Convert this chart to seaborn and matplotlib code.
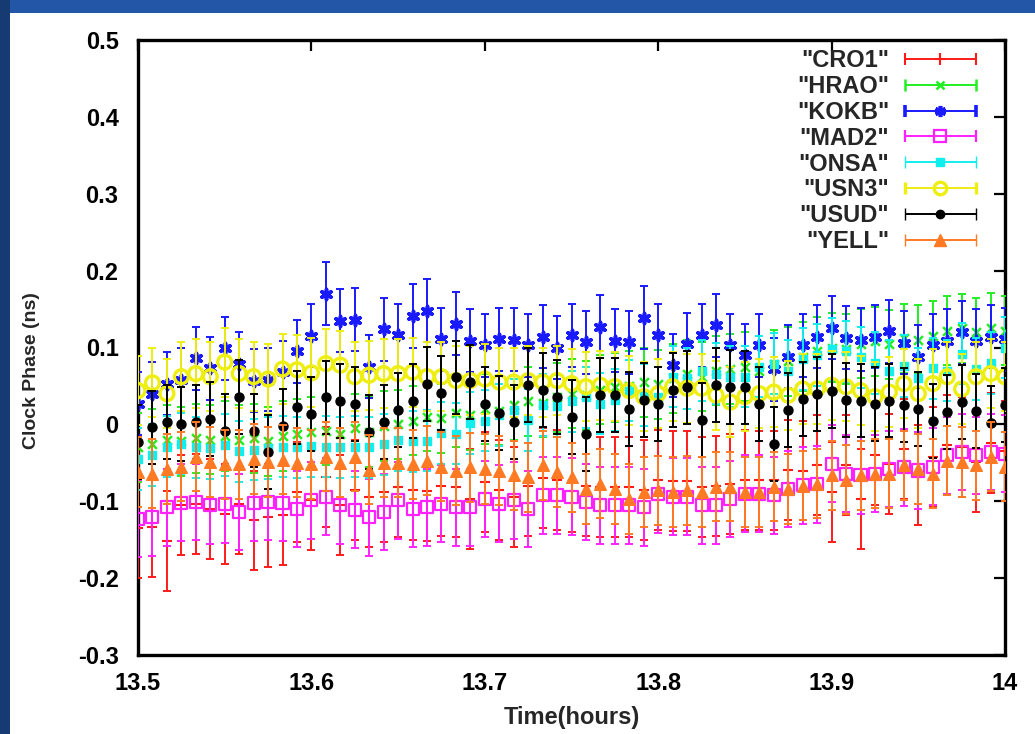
import numpy as np
import pandas as pd
import matplotlib
matplotlib.use("Agg")
import matplotlib.pyplot as plt
import seaborn as sns
from matplotlib.container import ErrorbarContainer
from matplotlib.legend_handler import HandlerErrorbar
from matplotlib.patches import Rectangle

# ---------------- data ----------------
stations = ["CRO1", "HRAO", "KOKB", "MAD2", "ONSA", "USN3", "USUD", "YELL"]
time_hours = np.linspace(13.5, 14.0, 61)   # 30-second epochs

cro1 = [-0.135, -0.133, -0.152, -0.105, -0.103, -0.110, -0.116, -0.104, -0.125, -0.121, -0.118,
        -0.088, -0.099, -0.069, -0.105, -0.085, -0.095, -0.088, -0.082, -0.085, -0.087,
        -0.080, -0.082, -0.097, -0.075, -0.085, -0.095, -0.080, -0.070, -0.072, -0.075,
        -0.080, -0.082, -0.082, -0.082, -0.085, -0.072, -0.074, -0.074, -0.082, -0.080,
        -0.078, -0.072, -0.073, -0.073, -0.059, -0.060, -0.053, -0.088, -0.053, -0.097,
        -0.040, -0.051, -0.032, -0.066, -0.043, -0.027, -0.029, -0.049, -0.024, -0.035]
hrao = [-0.030, -0.025, -0.020, -0.022, -0.018, -0.020, -0.015, -0.020, -0.018, -0.022, -0.015,
        -0.012, -0.010, -0.008, -0.012, -0.005, -0.010, -0.002, 0.000, 0.005, 0.010,
        0.008, 0.015, 0.012, 0.020, 0.018, 0.025, 0.030, 0.028, 0.035, 0.040,
        0.038, 0.045, 0.048, 0.050, 0.055, 0.052, 0.060, 0.065, 0.062, 0.070,
        0.072, 0.075, 0.070, 0.078, 0.082, 0.088, 0.095, 0.100, 0.098, 0.105,
        0.108, 0.104, 0.112, 0.110, 0.115, 0.122, 0.125, 0.120, 0.126, 0.122]
kokb = [0.027, 0.040, 0.053, 0.058, 0.086, 0.073, 0.099, 0.079, 0.057, 0.058, 0.068,
        0.095, 0.115, 0.170, 0.135, 0.136, 0.075, 0.124, 0.116, 0.141, 0.148,
        0.111, 0.131, 0.109, 0.103, 0.111, 0.110, 0.103, 0.114, 0.100, 0.116,
        0.107, 0.127, 0.109, 0.107, 0.139, 0.116, 0.077, 0.104, 0.116, 0.129,
        0.103, 0.090, 0.103, 0.072, 0.088, 0.103, 0.114, 0.126, 0.113, 0.110,
        0.114, 0.121, 0.106, 0.088, 0.103, 0.109, 0.120, 0.109, 0.114, 0.111]
mad2 = [-0.123, -0.121, -0.108, -0.102, -0.101, -0.105, -0.104, -0.114, -0.102, -0.101, -0.102,
        -0.110, -0.099, -0.094, -0.105, -0.111, -0.121, -0.114, -0.099, -0.110, -0.108,
        -0.103, -0.108, -0.108, -0.097, -0.103, -0.099, -0.110, -0.092, -0.092, -0.094,
        -0.101, -0.105, -0.105, -0.105, -0.108, -0.091, -0.094, -0.094, -0.105, -0.105,
        -0.097, -0.090, -0.090, -0.092, -0.084, -0.079, -0.078, -0.051, -0.064, -0.066,
        -0.064, -0.058, -0.056, -0.060, -0.055, -0.040, -0.036, -0.040, -0.036, -0.038]
onsa = [-0.045, -0.040, -0.029, -0.025, -0.030, -0.031, -0.027, -0.035, -0.033, -0.031, -0.029,
        -0.030, -0.028, -0.029, -0.030, -0.029, -0.030, -0.026, -0.020, -0.022, -0.021,
        -0.011, -0.012, 0.002, 0.005, 0.012, 0.019, 0.006, 0.025, 0.024, 0.030,
        0.035, 0.027, 0.032, 0.044, 0.038, 0.035, 0.062, 0.060, 0.070, 0.066,
        0.062, 0.062, 0.075, 0.079, 0.070, 0.085, 0.090, 0.098, 0.095, 0.087,
        0.080, 0.070, 0.076, 0.060, 0.073, 0.070, 0.092, 0.072, 0.080, 0.100]
usn3 = [0.044, 0.054, 0.040, 0.062, 0.066, 0.062, 0.081, 0.066, 0.062, 0.059, 0.072,
        0.071, 0.067, 0.079, 0.077, 0.062, 0.064, 0.066, 0.066, 0.068, 0.062,
        0.062, 0.057, 0.057, 0.059, 0.055, 0.055, 0.057, 0.055, 0.057, 0.053,
        0.049, 0.051, 0.049, 0.044, 0.036, 0.040, 0.049, 0.047, 0.047, 0.038,
        0.029, 0.036, 0.040, 0.042, 0.038, 0.046, 0.046, 0.051, 0.049, 0.044,
        0.036, 0.042, 0.053, 0.040, 0.053, 0.062, 0.046, 0.062, 0.066, 0.062]
usud = [-0.023, -0.004, 0.003, 0.000, 0.003, 0.007, -0.009, 0.036, -0.008, -0.036, -0.002,
        0.022, 0.014, 0.035, 0.030, 0.026, -0.010, 0.003, 0.019, 0.030, 0.053,
        0.041, 0.061, 0.055, 0.027, 0.015, 0.003, 0.051, 0.045, 0.036, 0.010,
        -0.012, 0.038, 0.038, 0.020, 0.032, 0.026, 0.045, 0.048, 0.006, 0.051,
        0.049, 0.048, 0.026, -0.026, 0.019, 0.033, 0.039, 0.043, 0.032, 0.031,
        0.027, 0.031, 0.025, 0.020, 0.004, 0.016, 0.029, 0.017, 0.002, 0.025]
yell = [-0.062, -0.064, -0.058, -0.055, -0.042, -0.049, -0.052, -0.052, -0.045, -0.049, -0.046,
        -0.050, -0.052, -0.042, -0.050, -0.042, -0.059, -0.050, -0.050, -0.052, -0.047,
        -0.055, -0.060, -0.056, -0.058, -0.060, -0.066, -0.069, -0.053, -0.062, -0.069,
        -0.084, -0.077, -0.084, -0.097, -0.088, -0.086, -0.088, -0.086, -0.088, -0.081,
        -0.081, -0.088, -0.088, -0.081, -0.084, -0.080, -0.077, -0.066, -0.072, -0.066,
        -0.064, -0.064, -0.053, -0.058, -0.064, -0.047, -0.049, -0.053, -0.042, -0.055]

# 1-sigma error bar half-width per station (ns)
errors = [0.065, 0.045, 0.041, 0.050, 0.040, 0.045, 0.048, 0.045]

xticks = [13.5, 13.6, 13.7, 13.8, 13.9, 14.0]
xtick_labels = ["13.5", "13.6", "13.7", "13.8", "13.9", "14"]
yticks = [-0.3, -0.2, -0.1, 0.0, 0.1, 0.2, 0.3, 0.4, 0.5]
ytick_labels = ["-0.3", "-0.2", "-0.1", "0", "0.1", "0.2", "0.3", "0.4", "0.5"]

series = [cro1, hrao, kokb, mad2, onsa, usn3, usud, yell]
df = pd.concat([pd.DataFrame({"time": time_hours, "phase": vals, "err": e, "station": st})
                for st, vals, e in zip(stations, series, errors)], ignore_index=True)

# ---------------- styles ----------------
colors = {"CRO1": "#ff1a1a", "HRAO": "#22ee22", "KOKB": "#1a1aff", "MAD2": "#ff22ff",
          "ONSA": "#11eeee", "USN3": "#eeee11", "USUD": "#000000", "YELL": "#ff7a22"}
# marker, size (scatter), filled, marker linewidth, legend markersize
mstyle = {"CRO1": ("+", 60, True, 1.5, 8),
          "HRAO": ("x", 40, True, 1.8, 6),
          "KOKB": ((6, 2, 0), 55, True, 2.6, 8),
          "MAD2": ("s", 75, False, 1.6, 8),
          "ONSA": ("s", 40, True, 1.0, 6),
          "USN3": ("o", 100, False, 2.4, 9),
          "USUD": ("o", 42, True, 1.0, 6),
          "YELL": ("^", 70, True, 1.0, 8)}

sns.set_style("white")
plt.rcParams["font.family"] = ["Liberation Sans", "DejaVu Sans"]

fig = plt.figure(figsize=(10.35, 7.34), dpi=100)
fig.patch.set_facecolor("white")
ax = fig.add_axes([138 / 1035, 1 - 655 / 734, 867 / 1035, 615 / 734])
ax.set_facecolor("white")

proxies = []
for k, st in enumerate(stations):
    sub = df[df["station"] == st]
    c = colors[st]
    m, s, filled, mlw, lms = mstyle[st]
    ax.errorbar(sub["time"], sub["phase"], yerr=sub["err"], fmt="none", ecolor=c,
                elinewidth=1.4, capsize=3.2, capthick=1.4, zorder=3 + 2 * k)
    sns.scatterplot(data=sub, x="time", y="phase", ax=ax, marker=m, s=s,
                    color=c, edgecolor=c, facecolor=(c if filled else "none"),
                    linewidth=mlw, zorder=4 + 2 * k, legend=False)
    h = ax.errorbar([np.nan], [np.nan], xerr=[1.0], fmt="", marker=m, linestyle="none",
                    color=c, mec=c, mfc=(c if filled else "none"), ms=lms, mew=mlw,
                    elinewidth=1.4, capsize=4, capthick=1.4, label='"%s"' % st)
    proxies.append(h)

ax.set_xlim(13.5, 14.0)
ax.set_ylim(-0.3, 0.5)
ax.set_xticks(xticks)
ax.set_xticklabels(xtick_labels)
ax.set_yticks(yticks)
ax.set_yticklabels(ytick_labels)
ax.tick_params(direction="in", length=8, width=1.6, top=True, right=True,
               labelsize=17, colors="black")
ax.tick_params(axis="y", pad=14)
ax.tick_params(axis="x", pad=12)
for lab in ax.get_xticklabels() + ax.get_yticklabels():
    lab.set_fontweight("bold")
for sp in ax.spines.values():
    sp.set_linewidth(2.4)
    sp.set_color("black")

ax.set_xlabel("Time(hours)", fontsize=17, fontweight="bold")
ax.xaxis.set_label_coords(0.5, -0.083)
ax.set_ylabel("Clock Phase (ns)", fontsize=14, fontweight="bold")
ax.yaxis.set_label_coords(-0.113, 0.463)

leg = ax.legend(handles=proxies, loc="upper right", bbox_to_anchor=(0.966, 0.985),
                frameon=False, markerfirst=False, handlelength=3.0, handletextpad=0.65,
                labelspacing=0.12, borderpad=0, borderaxespad=0, numpoints=1,
                prop=dict(weight="bold", size=17),
                handler_map={ErrorbarContainer: HandlerErrorbar(xerr_size=1.5)})
leg.set_zorder(30)

# slide frame decoration
fig.add_artist(Rectangle((0, 1 - 13 / 734), 1, 13 / 734, transform=fig.transFigure,
                         facecolor="#2456a8", edgecolor="none", zorder=0))
fig.add_artist(Rectangle((0, 0), 10 / 1035, 1, transform=fig.transFigure,
                         facecolor="#163a72", edgecolor="none", zorder=0))

fig.savefig("out.png", dpi=100)
